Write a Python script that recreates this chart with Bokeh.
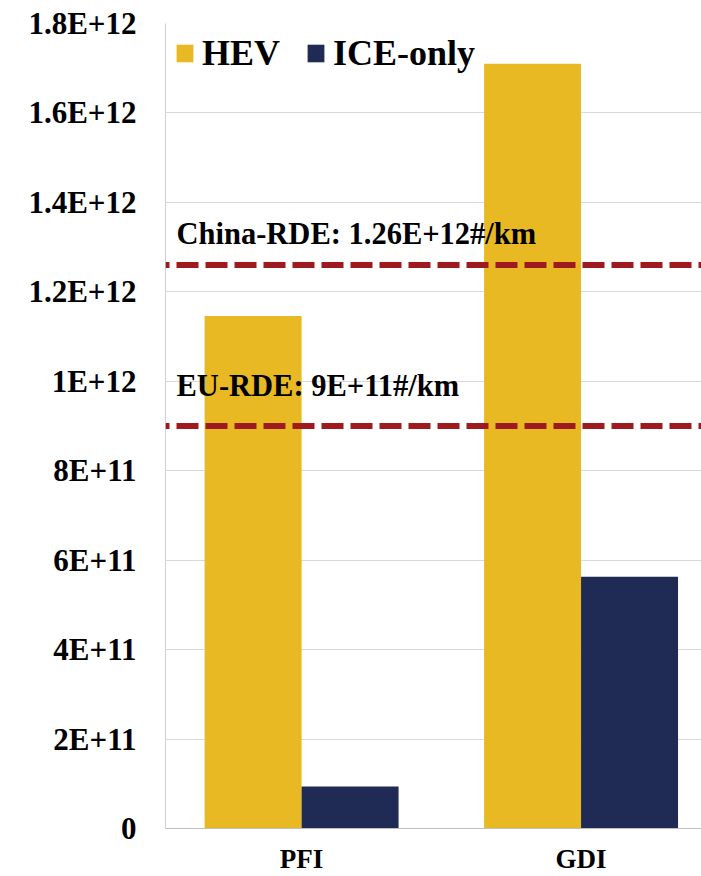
from bokeh.plotting import figure
from bokeh.models import (ColumnDataSource, Range1d, FixedTicker, Span, Label,
                          Legend, LegendItem)
from bokeh.transform import dodge
from bokeh.embed import file_html
from bokeh.resources import INLINE

# ---- data ----
categories = ["PFI", "GDI"]
hev = [1.146e12, 1.71e12]
ice_only = [9.4e10, 5.63e11]
series_names = ["HEV", "ICE-only"]
limit_names = ["China-RDE: 1.26E+12#/km", "EU-RDE: 9E+11#/km"]
limit_values = [1.26e12, 9e11]
y_ticks = [0, 2e11, 4e11, 6e11, 8e11, 1e12, 1.2e12, 1.4e12, 1.6e12, 1.8e12]
y_tick_labels = ["0", "2E+11", "4E+11", "6E+11", "8E+11", "1E+12",
                 "1.2E+12", "1.4E+12", "1.6E+12", "1.8E+12"]

FONT = "Liberation Serif"
HEV_COLOR = "#E8B923"
ICE_COLOR = "#1F2A55"
LIMIT_COLOR = "#9E1A1F"

xpos = [i + 0.5 for i in range(len(categories))]
src = ColumnDataSource(dict(x=xpos, hev=hev, ice=ice_only))

p = figure(width=701, height=876, output_backend="svg", toolbar_location=None,
           x_range=Range1d(0.013, 1.931), y_range=Range1d(0, 1.8e12),
           min_border_left=165, min_border_right=0, min_border_top=23,
           min_border_bottom=48)
p.outline_line_color = None
p.background_fill_color = "white"
p.border_fill_color = "white"

bw = 0.347
r1 = p.vbar(x=dodge("x", -bw / 2, range=p.x_range), top="hev", width=bw,
            bottom=0, source=src, fill_color=HEV_COLOR, line_color=None)
r2 = p.vbar(x=dodge("x", bw / 2, range=p.x_range), top="ice", width=bw,
            bottom=0, source=src, fill_color=ICE_COLOR, line_color=None)

# limits
offsets = [31, 40]
for name, val, off in zip(limit_names, limit_values, offsets):
    p.add_layout(Span(location=val, dimension="width", line_color=LIMIT_COLOR,
                      line_width=6, line_dash="22 7", line_dash_offset=-11))
    p.add_layout(Label(x=0.0524, y=val, y_offset=off, text=name,
                       text_font=FONT, text_font_style="bold",
                       text_font_size="30.5px", text_color="black",
                       text_baseline="middle", text_align="left"))

# axes
p.yaxis.ticker = FixedTicker(ticks=y_ticks)
p.yaxis.major_label_overrides = {t: l for t, l in zip(y_ticks, y_tick_labels)}
p.yaxis.major_label_text_font = FONT
p.yaxis.major_label_text_font_style = "bold"
p.yaxis.major_label_text_font_size = "31px"
p.yaxis.major_label_text_color = "black"
p.yaxis.major_label_standoff = 23
p.yaxis.major_tick_line_color = None
p.yaxis.minor_tick_line_color = None
p.yaxis.axis_line_color = "#D0D0D0"

p.xaxis.ticker = FixedTicker(ticks=xpos)
p.xaxis.major_label_overrides = {x: c for x, c in zip(xpos, categories)}
p.xaxis.major_label_text_font = FONT
p.xaxis.major_label_text_font_style = "bold"
p.xaxis.major_label_text_font_size = "27px"
p.xaxis.major_label_text_color = "black"
p.xaxis.major_label_standoff = 9
p.xaxis.major_tick_line_color = None
p.xaxis.minor_tick_line_color = None
p.xaxis.axis_line_color = "#BFBFBF"

p.xgrid.grid_line_color = None
p.ygrid.ticker = FixedTicker(ticks=y_ticks)
p.ygrid.grid_line_color = "#D9D9D9"

legend = Legend(items=[LegendItem(label=series_names[0], renderers=[r1]),
                       LegendItem(label=series_names[1], renderers=[r2])],
                orientation="horizontal", location="top_left",
                label_text_font=FONT, label_text_font_style="bold",
                label_text_font_size="36px", label_text_color="black",
                glyph_width=21, glyph_height=22, label_standoff=7, spacing=25,
                padding=0, margin=9, border_line_color=None,
                background_fill_alpha=0)
p.add_layout(legend)

open("out.html", "w").write(file_html(p, INLINE))
